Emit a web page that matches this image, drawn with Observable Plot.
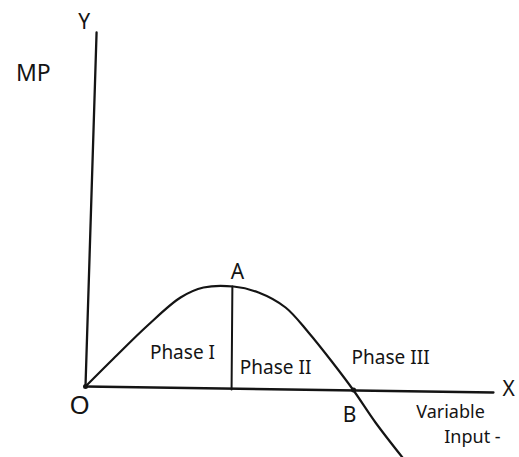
<!DOCTYPE html>
<html>
<head>
<meta charset="utf-8">
<script src="https://cdn.jsdelivr.net/npm/d3@7"></script>
<script src="https://cdn.jsdelivr.net/npm/@observablehq/plot@0.6"></script>
<style>
  html, body { margin: 0; padding: 0; background: #fff; }
</style>
</head>
<body>
<div id="chart"></div>
<script>
// Marginal product (MP) curve against variable input (hand-drawn sketch values)
const curveInput = [0, 1.04, 2.30, 3.52, 4.37, 5.48, 6.41, 7.41, 8.26, 9.15, 9.93, 10.74, 11.74];
const curveMP    = [0, 2.8, 6.1, 8.9, 9.9, 10.0, 9.4, 7.9, 5.4, 2.4, -0.4, -3.6, -7.1];

// Axes (as drawn, slightly tilted)
const xAxisInput = [0, 15.11];
const xAxisMP    = [0, -0.6];
const yAxisInput = [0, 0.41];
const yAxisMP    = [0, 35.4];

// Divider from A down to the x axis
const dividerInput = [5.44, 5.41];
const dividerMP    = [10.0, -0.3];

// Point letters
const pointLabels = ["Y", "A", "B", "X"];
const pointLabelX = [-0.05, 5.63, 9.78, 15.67];
const pointLabelY = [36.4, 11.4, -2.9, -0.3];

// Axis name and origin
const mpLabel = ["MP"];
const mpLabelX = [-1.93];
const mpLabelY = [31.3];
const originLabel = ["O"];
const originLabelX = [-0.22];
const originLabelY = [-1.9];

// Phase labels
const phaseLabels = ["Phase I", "Phase II", "Phase III"];
const phaseLabelX = [3.59, 7.04, 11.30];
const phaseLabelY = [3.4, 1.9, 2.9];

// X-axis title
const inputLabels = ["Variable", "Input -"];
const inputLabelX = [13.52, 14.33];
const inputLabelY = [-2.6, -5.1];

const pts = (xs, ys) => xs.map((x, i) => ({x, y: ys[i]}));
const lbl = (ts, xs, ys) => ts.map((t, i) => ({t, x: xs[i], y: ys[i]}));

const curve = pts(curveInput, curveMP);
const xAxis = pts(xAxisInput, xAxisMP);
const yAxis = pts(yAxisInput, yAxisMP);
const divider = pts(dividerInput, dividerMP);

const ink = "#141414";

const chart = Plot.plot({
  width: 519,
  height: 457,
  marginTop: 0, marginRight: 0, marginBottom: 0, marginLeft: 0,
  x: {domain: [-85 / 27, 434 / 27], axis: null},
  y: {domain: [-7.1, 38.6], axis: null},
  style: {background: "#fff", fontFamily: "'Noto Sans', sans-serif", color: ink},
  marks: [
    Plot.line(xAxis, {x: "x", y: "y", stroke: ink, strokeWidth: 2.3}),
    Plot.line(yAxis, {x: "x", y: "y", stroke: ink, strokeWidth: 2.3}),
    Plot.line(divider, {x: "x", y: "y", stroke: ink, strokeWidth: 2}),
    Plot.line(curve, {x: "x", y: "y", stroke: ink, strokeWidth: 2.2, curve: "catmull-rom"}),
    Plot.dot([curve[0], {x: 9.93, y: -0.35}], {x: "x", y: "y", r: 2.5, fill: ink}),
    Plot.text(lbl(pointLabels, pointLabelX, pointLabelY), {x: "x", y: "y", text: "t", fontSize: 21, fill: ink}),
    Plot.text(lbl(mpLabel, mpLabelX, mpLabelY), {x: "x", y: "y", text: "t", fontSize: 23, letterSpacing: 3, fill: ink}),
    Plot.text(lbl(originLabel, originLabelX, originLabelY), {x: "x", y: "y", text: "t", fontSize: 26, fill: ink}),
    Plot.text(lbl(phaseLabels, phaseLabelX, phaseLabelY), {x: "x", y: "y", text: "t", fontSize: 19, fill: ink}),
    Plot.text(lbl(inputLabels, inputLabelX, inputLabelY), {x: "x", y: "y", text: "t", fontSize: 18, fill: ink})
  ]
});
document.getElementById("chart").appendChild(chart);
</script>
</body>
</html>
